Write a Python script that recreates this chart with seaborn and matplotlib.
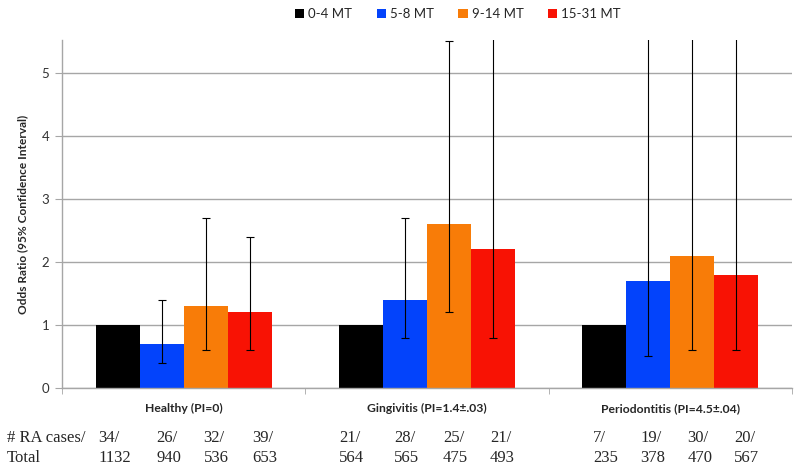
import numpy as np
import pandas as pd
import matplotlib
matplotlib.use("Agg")
import matplotlib.pyplot as plt
import seaborn as sns
from matplotlib.patches import Patch

# chart data
groups = ["Healthy (PI=0)", "Gingivitis (PI=1.4\u00b1.03)", "Periodontitis (PI=4.5\u00b1.04)"]
tenure = ["0-4 MT", "5-8 MT", "9-14 MT", "15-31 MT"]
odds = [[1.0, 0.7, 1.3, 1.2],
        [1.0, 1.4, 2.6, 2.2],
        [1.0, 1.7, 2.1, 1.8]]
ci_low = [[1.0, 0.4, 0.6, 0.6],
          [1.0, 0.8, 1.2, 0.8],
          [1.0, 0.5, 0.6, 0.6]]
ci_high = [[1.0, 1.4, 2.7, 2.4],
           [1.0, 2.7, 5.5, 9.0],
           [1.0, 12.0, 9.0, 8.0]]
ra_cases = [["34/", "26/", "32/", "39/"],
            ["21/", "28/", "25/", "21/"],
            ["7/", "19/", "30/", "20/"]]
totals = [["1132", "940", "536", "653"],
          ["564", "565", "475", "493"],
          ["235", "378", "470", "567"]]

colors = ["#000000", "#0343FB", "#F87C08", "#F81204"]

df = pd.DataFrame({
    "group": np.repeat(groups, len(tenure)),
    "tenure": tenure * len(groups),
    "odds": np.ravel(odds),
})

sns.set_style("white")
plt.rcParams["font.family"] = ["Lato", "DejaVu Sans"]

fig = plt.figure(figsize=(8, 4.69), dpi=100)
ax = fig.add_axes([0.0775, 0.1727, 0.9125, 0.742])

sns.barplot(data=df, x="group", y="odds", hue="tenure", order=groups,
            hue_order=tenure, palette=colors, saturation=1, width=0.724,
            errorbar=None, linewidth=0, legend=False, ax=ax)

# error bars at bar centres
bars = sorted(ax.patches, key=lambda p: p.get_x())
xc = np.array([p.get_x() + p.get_width() / 2 for p in bars])
val = np.ravel(odds)
lo = val - np.ravel(ci_low)
hi = np.ravel(ci_high) - val
mask = (lo > 0) | (hi > 0)
ax.errorbar(xc[mask], val[mask], yerr=[lo[mask], hi[mask]], fmt="none",
            ecolor="black", elinewidth=0.8, capsize=3.2, capthick=0.8, zorder=3)

ax.set_ylim(0, 5.52)
ax.set_xlim(-0.5, 2.5)
ax.set_yticks(range(6))
ax.yaxis.grid(True, color="#a6a6a6", linewidth=1)
ax.set_axisbelow(True)
for s in ["top", "right"]:
    ax.spines[s].set_visible(False)
for s in ["left", "bottom"]:
    ax.spines[s].set_color("#a6a6a6")
    ax.spines[s].set_linewidth(1)

ax.tick_params(axis="y", left=True, length=5, color="#a6a6a6", labelsize=9.5,
               labelcolor="#333333", pad=4)
ax.set_xticks([0, 1, 2])
ax.set_xticklabels(groups, fontweight="bold", fontsize=8.7)
ax.tick_params(axis="x", which="major", length=0, pad=11)
ax.set_xticks([-0.5, 0.5, 1.5, 2.5], minor=True)
ax.tick_params(axis="x", which="minor", bottom=True, length=4, color="#a6a6a6")
ax.set_xlabel("")
ax.set_ylabel("Odds Ratio (95% Confidence Interval)", fontweight="bold",
              fontsize=8.6, labelpad=10)

# case counts table under the axis
col_x = [[-0.35, -0.111, 0.082, 0.28],
         [-0.362, -0.136, 0.066, 0.259],
         [-0.317, -0.123, 0.07, 0.263]]
tr = ax.get_xaxis_transform()
serif = ["Liberation Serif", "DejaVu Serif"]
for gi in range(len(groups)):
    for ti in range(len(tenure)):
        ax.text(gi + col_x[gi][ti], -0.144, ra_cases[gi][ti], transform=tr,
                ha="left", va="center", fontsize=12, family=serif)
        ax.text(gi + col_x[gi][ti], -0.2, totals[gi][ti], transform=tr,
                ha="left", va="center", fontsize=12, family=serif)
fig.text(7 / 800, 1 - 438 / 469, "# RA cases/", ha="left", va="center",
         fontsize=12, family=serif)
fig.text(7 / 800, 1 - 457.5 / 469, "Total", ha="left", va="center",
         fontsize=12, family=serif)

handles = [Patch(facecolor=c, edgecolor="none", label=t) for c, t in zip(colors, tenure)]
fig.legend(handles=handles, loc="center", bbox_to_anchor=(458 / 800, 1 - 14 / 469),
           ncol=4, frameon=False, fontsize=9.5, handlelength=0.7, handleheight=0.7,
           handletextpad=0.3, columnspacing=1.85)

fig.savefig("out.png", dpi=100)
